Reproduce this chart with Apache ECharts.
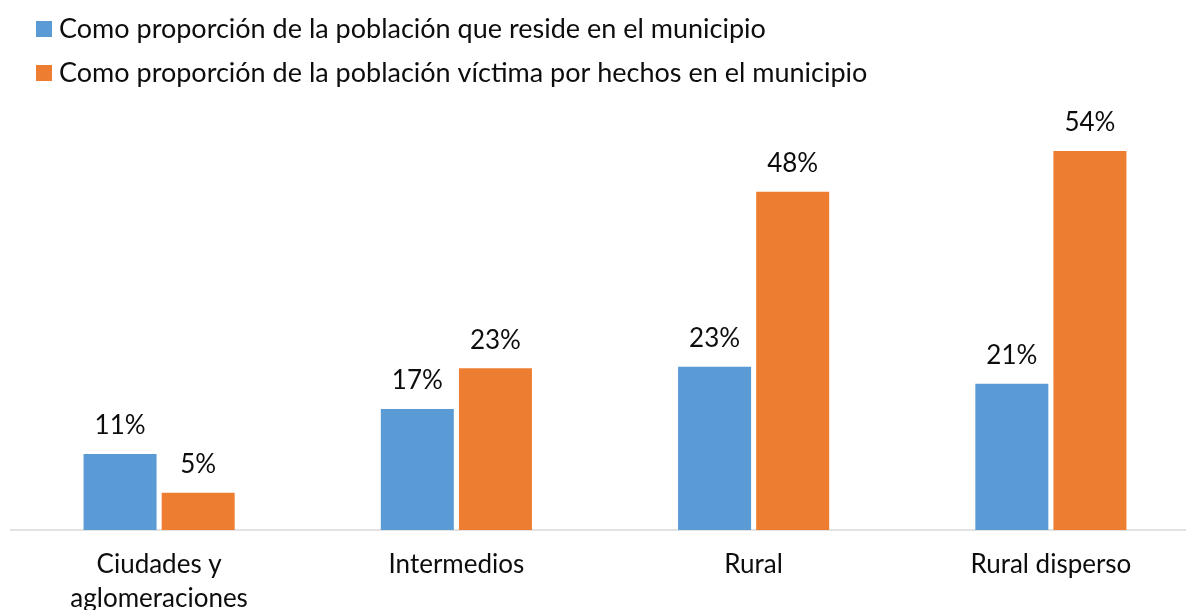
<!DOCTYPE html>
<html>
<head>
<meta charset="utf-8">
<script src="https://cdn.jsdelivr.net/npm/echarts@6/dist/echarts.min.js"></script>
<style>
  html, body { margin: 0; padding: 0; background: #fff; }
  #chart { width: 1186px; height: 610px; }
</style>
</head>
<body>
<div id="chart"></div>
<script>
const categories = ['Ciudades y\naglomeraciones', 'Intermedios', 'Rural', 'Rural disperso']
const seriesNames = [
  'Como proporción de la población que reside en el municipio',
  'Como proporción de la población víctima por hechos en el municipio'
]
const resideValues = [10.8, 17.2, 23.2, 20.8]
const victimaValues = [5.3, 23.0, 48.1, 53.9]

const fontFamily = 'Lato'
const textColor = '#0d0d0d'

const labelOpts = {
  show: true,
  position: 'top',
  distance: 15,
  fontFamily: fontFamily,
  fontSize: 26,
  color: textColor,
  formatter: (p) => Math.round(p.value) + '%'
}

const chart = echarts.init(document.getElementById('chart'))

chart.setOption({
  animation: false,
  color: ['#5b9bd5', '#ed7d31'],
  legend: {
    orient: 'vertical',
    left: 36,
    top: 15,
    padding: 0,
    itemWidth: 16,
    itemHeight: 16,
    itemGap: 16,
    icon: 'rect',
    textStyle: {
      fontFamily: fontFamily,
      fontSize: 27,
      lineHeight: 28,
      color: textColor,
      padding: [0, 0, 0, 2]
    },
    data: seriesNames
  },
  grid: {
    left: 10.5,
    width: 1189,
    top: 108,
    bottom: 80,
    outerBoundsMode: 'none'
  },
  xAxis: {
    type: 'category',
    data: categories,
    axisTick: { show: false },
    axisLine: { lineStyle: { color: '#d9d9d9', width: 1.5 } },
    axisLabel: {
      margin: 18,
      fontFamily: fontFamily,
      fontSize: 26,
      lineHeight: 34,
      color: textColor
    }
  },
  yAxis: {
    type: 'value',
    min: 0,
    max: 60,
    show: false,
    splitLine: { show: false }
  },
  series: [
    {
      name: seriesNames[0],
      type: 'bar',
      data: resideValues,
      barWidth: 73,
      barGap: '7%',
      label: labelOpts
    },
    {
      name: seriesNames[1],
      type: 'bar',
      data: victimaValues,
      barWidth: 73,
      barGap: '7%',
      label: labelOpts
    }
  ]
})
</script>
</body>
</html>
